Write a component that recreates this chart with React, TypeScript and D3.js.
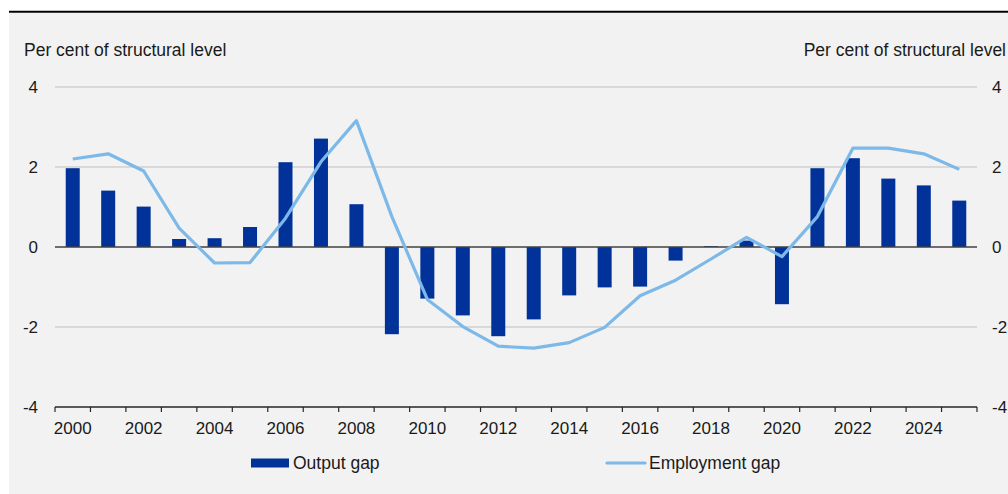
import React from "react";
import * as d3 from "d3";

const years = d3.range(2000, 2026).map(String);
const outputGap = [1.97, 1.41, 1.01, 0.2, 0.22, 0.5, 2.12, 2.71, 1.07, -2.18, -1.29, -1.71, -2.23, -1.81, -1.21, -1.01, -0.99, -0.34, 0.02, 0.16, -1.43, 1.97, 2.22, 1.71, 1.54, 1.16];
const employmentGap = [2.2, 2.33, 1.9, 0.47, -0.4, -0.39, 0.72, 2.13, 3.16, 0.76, -1.31, -1.99, -2.48, -2.53, -2.39, -2.01, -1.22, -0.83, -0.3, 0.24, -0.24, 0.76, 2.47, 2.47, 2.33, 1.94];
const yTicks = [4, 2, 0, -2, -4];
const xLabels = ["2000", "2002", "2004", "2006", "2008", "2010", "2012", "2014", "2016", "2018", "2020", "2022", "2024"];
const axisTitle = "Per cent of structural level";
const legendLabels = ["Output gap", "Employment gap"];

const W = 1008, H = 494;
const left = 55, right = 977, top = 87, bottom = 407;
const barColor = "#003299";
const lineColor = "#7cb9e8";
const font = "'Liberation Sans', Arial, sans-serif";
const textColor = "#1a1a1a";
const tickFont = 17;
const labelFont = 17.5;

export default function App() {
  const x = d3.scaleBand<string>().domain(years).range([left, right]).paddingInner(0).paddingOuter(0);
  const y = d3.scaleLinear().domain([-4, 4]).range([bottom, top]);
  const bw = 14;
  const cx = (d: string) => (x(d) as number) + x.bandwidth() / 2;
  const line = d3.line<number>().x((_, i) => cx(years[i])).y((v) => y(v));
  const boundaries = years.map((d) => x(d) as number).concat([right]);

  return (
    <svg width={W} height={H} style={{ position: "absolute", left: 0, top: 0 }} fontFamily={font}>
      <rect x={0} y={0} width={W} height={H} fill="#ffffff" />
      <rect x={9} y={13} width={W - 9} height={H - 13} fill="#f2f2f2" />
      <line x1={9} x2={W} y1={11.8} y2={11.8} stroke="#000" strokeWidth={2} />

      {yTicks.filter((t) => t !== 0 && t !== -4).map((t) => (
        <line key={"g" + t} x1={left} x2={right} y1={y(t)} y2={y(t)} stroke="#bfbfbf" strokeWidth={1} />
      ))}

      {outputGap.map((v, i) => (
        <rect key={"b" + i} x={cx(years[i]) - bw / 2} width={bw}
          y={Math.min(y(v), y(0))} height={Math.abs(y(v) - y(0))} fill={barColor} />
      ))}

      <line x1={left} x2={right} y1={y(0)} y2={y(0)} stroke="#404040" strokeWidth={1.3} />
      <line x1={left} x2={right} y1={y(-4)} y2={y(-4)} stroke="#262626" strokeWidth={1.3} />
      {boundaries.map((b, i) => (
        <line key={"t" + i} x1={b} x2={b} y1={y(-4)} y2={y(-4) + 5} stroke="#262626" strokeWidth={1.2} />
      ))}

      <path d={line(employmentGap) || ""} fill="none" stroke={lineColor} strokeWidth={3.2} strokeLinejoin="round" />

      {yTicks.map((t) => (
        <g key={"yl" + t}>
          <text x={38} y={y(t)} dy="0.35em" textAnchor="end" fontSize={tickFont} fill={textColor}>{t}</text>
          <text x={992} y={y(t)} dy="0.35em" textAnchor="start" fontSize={tickFont} fill={textColor}>{t}</text>
        </g>
      ))}

      {xLabels.map((l) => (
        <text key={"xl" + l} x={cx(l)} y={428} dy="0.35em" textAnchor="middle" fontSize={tickFont} fill={textColor}>{l}</text>
      ))}

      <text x={24} y={56} fontSize={labelFont} fill={textColor}>{axisTitle}</text>
      <text x={1006} y={56} fontSize={labelFont} textAnchor="end" fill={textColor}>{axisTitle}</text>

      <rect x={251} y={458.5} width={38} height={9} fill={barColor} />
      <text x={293} y={463} dy="0.35em" fontSize={labelFont} fill={textColor}>{legendLabels[0]}</text>
      <line x1={607} x2={645} y1={463} y2={463} stroke={lineColor} strokeWidth={3.2} strokeLinecap="round" />
      <text x={649} y={463} dy="0.35em" fontSize={labelFont} fill={textColor}>{legendLabels[1]}</text>
    </svg>
  );
}
